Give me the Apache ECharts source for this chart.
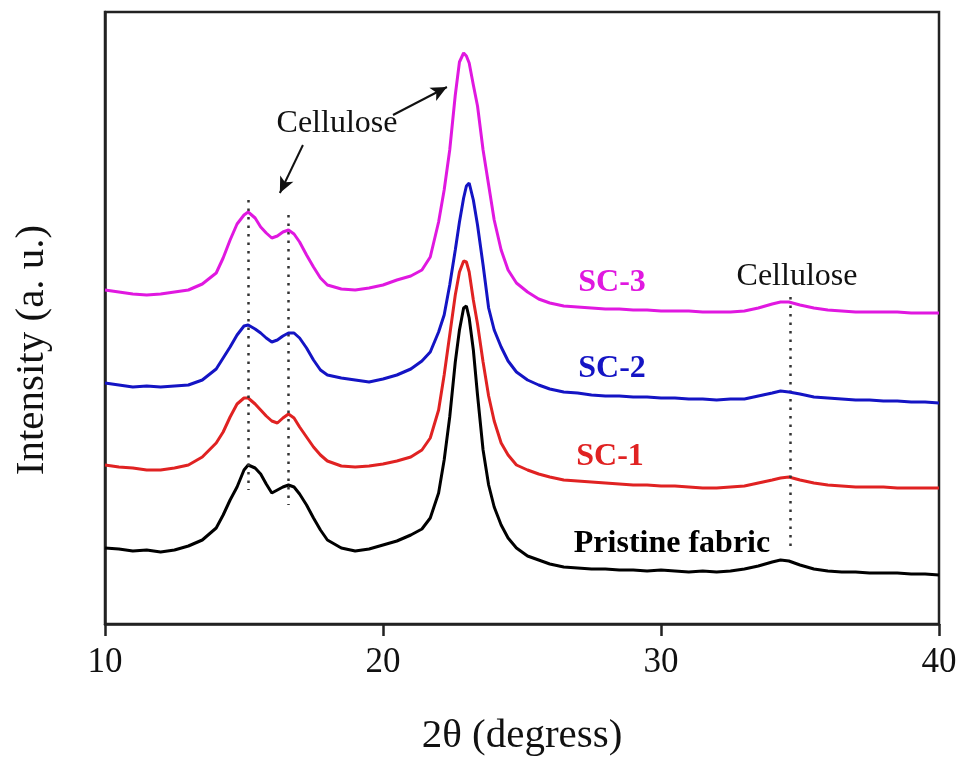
<!DOCTYPE html>
<html>
<head>
<meta charset="utf-8">
<script src="https://cdn.jsdelivr.net/npm/echarts@6/dist/echarts.min.js"></script>
<style>
  html, body { margin: 0; padding: 0; background: #fff; }
  #chart { width: 964px; height: 762px; }
</style>
</head>
<body>
<div id="chart"></div>
<script>
// 2θ positions (degrees)
const twoTheta = [
  10, 10.5, 11, 11.5, 12, 12.5, 13, 13.5, 14, 14.25,
  14.5, 14.75, 15, 15.15, 15.4, 15.6, 15.8, 16, 16.2, 16.4,
  16.6, 16.8, 17, 17.25, 17.5, 17.75, 18, 18.5, 19, 19.5,
  20, 20.5, 21, 21.4, 21.7, 22, 22.2, 22.4, 22.6, 22.75,
  22.9, 23, 23.1, 23.25, 23.4, 23.6, 23.8, 24, 24.25, 24.5,
  24.8, 25.2, 25.6, 26, 26.5, 27, 27.5, 28, 28.5, 29,
  29.5, 30, 30.5, 31, 31.5, 32, 32.5, 33, 33.5, 34,
  34.3, 34.6, 35, 35.5, 36, 36.5, 37, 37.5, 38, 38.5,
  39, 39.5, 40
];
// intensities (a. u., stacked offsets as in the figure)
const pristine = [
  76, 75, 73, 74, 72, 74, 78, 84, 96, 109,
  124, 137, 154, 159, 156, 150, 140, 131, 134, 137,
  139, 137, 130, 119, 106, 94, 84, 76, 73, 75,
  79, 83, 89, 95, 106, 131, 164, 207, 262, 294,
  316, 318, 306, 274, 229, 174, 139, 117, 99, 86,
  76, 68, 64, 60, 57, 56, 55, 55, 54, 54,
  53, 54, 53, 52, 53, 52, 53, 55, 58, 62,
  64, 63, 59, 55, 53, 52, 52, 51, 51, 51,
  50, 50, 49
];
const sc1 = [
  159, 157, 156, 154, 154, 156, 159, 167, 181, 192,
  207, 220, 226, 226, 220, 214, 208, 203, 201, 206,
  210, 206, 197, 187, 177, 169, 163, 158, 157, 158,
  160, 163, 167, 174, 186, 214, 249, 289, 329, 352,
  363, 362, 352, 324, 300, 262, 228, 203, 181, 169,
  159, 154, 150, 147, 144, 143, 142, 141, 140, 139,
  139, 138, 138, 137, 136, 136, 137, 138, 141, 144,
  146, 147, 144, 141, 139, 138, 137, 137, 137, 136,
  136, 136, 136
];
const sc2 = [
  241, 239, 237, 238, 237, 238, 239, 244, 255, 266,
  277, 289, 298, 299, 295, 291, 286, 282, 284, 288,
  291, 291, 286, 276, 264, 254, 249, 246, 244, 242,
  245, 249, 255, 263, 272, 292, 309, 339, 374, 402,
  426, 438, 441, 424, 399, 359, 316, 294, 277, 263,
  252, 244, 239, 235, 232, 231, 229, 228, 228, 227,
  227, 226, 226, 225, 225, 224, 225, 225, 228, 231,
  233, 232, 230, 227, 226, 225, 224, 224, 223, 223,
  222, 222, 221
];
const sc3 = [
  334, 332, 330, 329, 330, 332, 334, 340, 351, 366,
  384, 400, 409, 412, 406, 397, 391, 386, 388, 392,
  394, 390, 382, 369, 357, 346, 339, 335, 334, 336,
  339, 344, 348, 354, 367, 402, 434, 474, 529, 562,
  571, 568, 561, 539, 518, 474, 439, 404, 374, 354,
  341, 332, 325, 321, 318, 317, 316, 315, 315, 314,
  314, 313, 313, 313, 312, 312, 312, 313, 316, 320,
  322, 322, 319, 316, 314, 313, 312, 312, 312, 312,
  311, 311, 311
];
const seriesNames = ['Pristine fabric', 'SC-1', 'SC-2', 'SC-3'];
const xTicks = [10, 20, 30, 40];

const serif = 'Liberation Serif';
const colors = ['#000000', '#e02222', '#1414c4', '#e018e0'];

const pairs = (ys) => twoTheta.map((x, i) => [x, ys[i]]);

const myChart = echarts.init(document.getElementById('chart'));

const dotted = { color: '#333', width: 2.5, type: [2.5, 6] };
const arrowStyle = { color: '#111', width: 2, type: 'solid' };

const option = {
  animation: false,
  grid: {
    left: 105,
    right: 25,
    top: 12,
    bottom: 138,
    show: true,
    borderColor: '#222',
    borderWidth: 2.5,
  },
  xAxis: {
    type: 'value',
    min: xTicks[0],
    max: xTicks[xTicks.length - 1],
    interval: 10,
    splitLine: { show: false },
    axisLine: { show: true, lineStyle: { color: '#222', width: 2.5 } },
    axisTick: { show: true, inside: false, length: 12, lineStyle: { color: '#222', width: 2.5 } },
    axisLabel: {
      color: '#111',
      fontFamily: serif,
      fontSize: 35,
      margin: 21,
    },
    name: '2θ (degress)',
    nameLocation: 'middle',
    nameGap: 92,
    nameTextStyle: { color: '#111', fontFamily: serif, fontSize: 41 },
  },
  yAxis: {
    type: 'value',
    min: 0,
    max: 612,
    splitLine: { show: false },
    axisLine: { show: true, lineStyle: { color: '#222', width: 2.5 } },
    axisTick: { show: false },
    axisLabel: { show: false },
  },
  series: [
    {
      name: seriesNames[0],
      type: 'line',
      data: pairs(pristine),
      showSymbol: false,
      lineStyle: { color: colors[0], width: 3 },
      z: 3,
      markLine: {
        silent: true,
        label: { show: false },
        symbol: ['none', 'none'],
        data: [
          [{ coord: [15.15, 424], lineStyle: dotted }, { coord: [15.15, 134] }],
          [{ coord: [16.6, 409], lineStyle: dotted }, { coord: [16.6, 119] }],
          [{ coord: [34.65, 327], lineStyle: dotted }, { coord: [34.65, 76] }],
          [
            { coord: [20.36, 509], lineStyle: arrowStyle, symbol: 'none' },
            { coord: [22.3, 537], symbol: 'arrow', symbolSize: [11, 16] },
          ],
          [
            { coord: [17.12, 479], lineStyle: arrowStyle, symbol: 'none' },
            { coord: [16.29, 431], symbol: 'arrow', symbolSize: [11, 16] },
          ],
        ],
      },
    },
    {
      name: seriesNames[1],
      type: 'line',
      data: pairs(sc1),
      showSymbol: false,
      lineStyle: { color: colors[1], width: 3 },
      z: 4,
    },
    {
      name: seriesNames[2],
      type: 'line',
      data: pairs(sc2),
      showSymbol: false,
      lineStyle: { color: colors[2], width: 3 },
      z: 5,
    },
    {
      name: seriesNames[3],
      type: 'line',
      data: pairs(sc3),
      showSymbol: false,
      lineStyle: { color: colors[3], width: 3 },
      z: 6,
    },
  ],
  graphic: [
    {
      type: 'text',
      x: 32,
      y: 350,
      rotation: Math.PI / 2,
      style: {
        text: 'Intensity (a. u.)',
        fill: '#111',
        font: '41px "Liberation Serif"',
        align: 'center',
        verticalAlign: 'middle',
      },
    },
    {
      type: 'text',
      x: 337,
      y: 124,
      style: { text: 'Cellulose', fill: '#111', font: '32px "Liberation Serif"', align: 'center', verticalAlign: 'middle' },
    },
    {
      type: 'text',
      x: 797,
      y: 277,
      style: { text: 'Cellulose', fill: '#111', font: '32px "Liberation Serif"', align: 'center', verticalAlign: 'middle' },
    },
    {
      type: 'text',
      x: 612,
      y: 283,
      style: { text: seriesNames[3], fill: colors[3], font: 'bold 32px "Liberation Serif"', align: 'center', verticalAlign: 'middle' },
    },
    {
      type: 'text',
      x: 612,
      y: 369,
      style: { text: seriesNames[2], fill: colors[2], font: 'bold 32px "Liberation Serif"', align: 'center', verticalAlign: 'middle' },
    },
    {
      type: 'text',
      x: 610,
      y: 457,
      style: { text: seriesNames[1], fill: colors[1], font: 'bold 32px "Liberation Serif"', align: 'center', verticalAlign: 'middle' },
    },
    {
      type: 'text',
      x: 672,
      y: 544,
      style: { text: seriesNames[0], fill: colors[0], font: 'bold 32px "Liberation Serif"', align: 'center', verticalAlign: 'middle' },
    },
  ],
};
option && myChart.setOption(option);
</script>
</body>
</html>
